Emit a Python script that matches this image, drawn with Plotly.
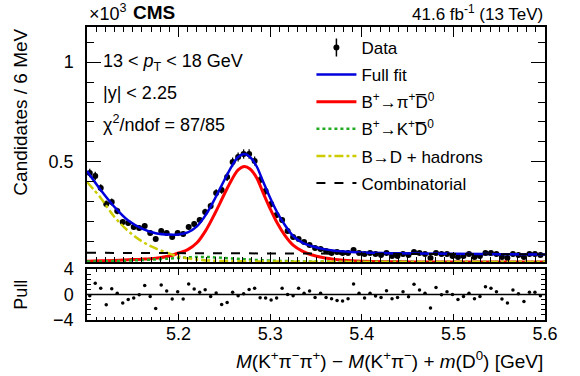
import numpy as np
import plotly.graph_objects as go

# ---------------- data (thousands of candidates per 6 MeV bin) ----------------
BIN_LO = 5.100
BIN_W = 0.006
counts = [0.445, 0.43, 0.37, 0.29, 0.30, 0.255, 0.20, 0.195, 0.175, 0.17,
          0.18, 0.145, 0.115, 0.155, 0.145, 0.125, 0.145, 0.14, 0.175, 0.19,
          0.21, 0.25, 0.28, 0.345, 0.36, 0.425, 0.50, 0.525, 0.54, 0.54,
          0.505, 0.41, 0.355, 0.29, 0.235, 0.21, 0.155, 0.125, 0.115, 0.10,
          0.085, 0.07, 0.065, 0.055, 0.045, 0.05, 0.045, 0.045, 0.06, 0.045,
          0.04, 0.045, 0.04, 0.035, 0.045, 0.03, 0.03, 0.04, 0.035, 0.05,
          0.045, 0.04, 0.02, 0.045, 0.04, 0.04, 0.03, 0.025, 0.03, 0.04,
          0.025, 0.03, 0.045, 0.045, 0.04, 0.025, 0.02, 0.04, 0.035, 0.025,
          0.04, 0.04, 0.035]
pulls = [-0.2, 1.75, 1.0, -1.6, 0.9, 0.2, -1.35, -0.8, -0.55, -0.05,
         1.4, -0.3, -2.2, 1.5, 0.55, -0.7, 0.45, -0.7, 1.65, 0.85,
         0.35, 0.75, -0.3, 0.25, -1.55, -1.25, 0.35, -0.2, 0.1, 0.8,
         1.0, -0.5, -0.55, -0.85, -0.55, 1.0, 0.0, -0.2, 1.0, 0.2,
         0.55, -0.45, 0.2, -0.45, -0.65, -0.95, -1.0, -0.65, 1.65, 0.2,
         -0.55, 0.2, -0.25, -0.45, 0.6, -0.65, -0.45, 0.45, -0.35, 1.6,
         0.7, 0.2, -2.1, 1.1, -0.05, 0.45, 0.0, -0.8, -0.3, 0.2,
         -0.65, -0.3, 1.2, 1.0, 0.45, -0.7, -1.35, 0.7, 0.1, -1.1,
         0.35, 0.35, -0.2]

# fit components
fit_x = [5.100, 5.115, 5.130, 5.145, 5.160, 5.175, 5.190, 5.200, 5.210, 5.220,
         5.230, 5.240, 5.250, 5.258, 5.265, 5.272, 5.278, 5.285, 5.292, 5.300,
         5.308, 5.316, 5.325, 5.335, 5.345, 5.360, 5.380, 5.400, 5.430, 5.460,
         5.500, 5.550, 5.600]
full_fit = [0.455, 0.36, 0.275, 0.207, 0.167, 0.144, 0.137, 0.138, 0.148, 0.178,
            0.238, 0.32, 0.41, 0.478, 0.525, 0.54, 0.525, 0.48, 0.405, 0.32,
            0.245, 0.185, 0.13, 0.097, 0.08, 0.063, 0.052, 0.047, 0.044, 0.042,
            0.041, 0.039, 0.038]
sig_pi = [0.004, 0.006, 0.008, 0.011, 0.014, 0.019, 0.03, 0.045, 0.062, 0.096,
          0.16, 0.246, 0.34, 0.411, 0.461, 0.478, 0.465, 0.423, 0.349, 0.266,
          0.192, 0.133, 0.084, 0.054, 0.036, 0.02, 0.009, 0.004, 0.0015, 0.0005,
          0.0, 0.0, 0.0]
sig_k = [0.002, 0.003, 0.005, 0.007, 0.010, 0.013, 0.017, 0.020, 0.023, 0.025,
         0.025, 0.023, 0.020, 0.018, 0.016, 0.014, 0.012, 0.010, 0.009, 0.007,
         0.006, 0.005, 0.004, 0.003, 0.003, 0.002, 0.0015, 0.001, 0.001, 0.0005,
         0.0, 0.0, 0.0]
bd_had = [0.40, 0.32, 0.225, 0.155, 0.103, 0.068, 0.042, 0.028, 0.018, 0.012,
          0.008, 0.006, 0.005, 0.004, 0.004, 0.003, 0.003, 0.003, 0.002, 0.002,
          0.002, 0.002, 0.0015, 0.0015, 0.001, 0.001, 0.0005, 0.0, 0.0, 0.0,
          0.0, 0.0, 0.0]
comb_x = [5.100, 5.350, 5.600]
comb = [0.046, 0.042, 0.038]

x_ticks = [5.2, 5.3, 5.4, 5.5, 5.6]
x_ticktext = ["5.2", "5.3", "5.4", "5.5", "5.6"]
y_ticks = [0.5, 1.0]
y_ticktext = ["0.5", "1"]
pull_ticks = [-4, 0, 4]

# ---------------- derived ----------------
centers = BIN_LO + BIN_W * (np.arange(len(counts)) + 0.5)
counts_a = np.array(counts)
errs = np.sqrt(counts_a * 1000.0) / 1000.0

FONT = "Liberation Sans, Arial, Helvetica, sans-serif"

fig = go.Figure()

fig.add_trace(go.Scatter(
    x=centers, y=counts_a, mode="markers", name="Data",
    marker=dict(color="black", size=6),
    error_y=dict(type="data", array=errs, color="black", thickness=1.3, width=0),
    xaxis="x2", yaxis="y2", legendgroup="a"))
fig.add_trace(go.Scatter(
    x=fit_x, y=full_fit, mode="lines", name="Full fit", line_shape="spline",
    line=dict(color="#0000dd", width=2.5), xaxis="x2", yaxis="y2", legendgroup="b"))
fig.add_trace(go.Scatter(
    x=fit_x, y=sig_pi, mode="lines", name="B<sup>+</sup>\u2192\u03c0<sup>+</sup>D\u0305<sup>0</sup>",
    line_shape="spline", line=dict(color="#ff0000", width=3), xaxis="x2", yaxis="y2", legendgroup="c"))
fig.add_trace(go.Scatter(
    x=fit_x, y=sig_k, mode="lines", name="B<sup>+</sup>\u2192K<sup>+</sup>D\u0305<sup>0</sup>",
    line_shape="spline", line=dict(color="#22aa22", width=2.5, dash="dot"),
    xaxis="x2", yaxis="y2", legendgroup="d"))
fig.add_trace(go.Scatter(
    x=fit_x, y=bd_had, mode="lines", name="B\u2192D + hadrons",
    line_shape="spline", line=dict(color="#cccc00", width=2.5, dash="dashdot"),
    xaxis="x2", yaxis="y2", legendgroup="e"))
fig.add_trace(go.Scatter(
    x=comb_x, y=comb, mode="lines", name="Combinatorial",
    line=dict(color="black", width=2, dash="dash"), xaxis="x2", yaxis="y2", legendgroup="f"))

# error-bar glyph for the "Data" legend entry (second legend overlaid on the first)
fig.add_trace(go.Scatter(
    x=[None], y=[None], mode="markers", name=" ",
    marker=dict(symbol="line-ns-open", size=13, color="black", line=dict(width=1.5, color="black")),
    xaxis="x2", yaxis="y2", legend="legend2", hoverinfo="skip"))

# pull panel
fig.add_trace(go.Scatter(
    x=[5.1, 5.6], y=[0, 0], mode="lines", line=dict(color="black", width=1.5),
    showlegend=False, hoverinfo="skip", xaxis="x", yaxis="y"))
fig.add_trace(go.Scatter(
    x=centers, y=pulls, mode="markers", marker=dict(color="black", size=3.5),
    showlegend=False, xaxis="x", yaxis="y"))

axis_common = dict(showline=True, linecolor="black", linewidth=1.5, mirror="allticks",
                   ticks="inside", tickcolor="black", showgrid=False, zeroline=False,
                   tickfont=dict(family=FONT, size=18, color="black"))

legend_common = dict(x=0.49, y=0.99, xanchor="left", yanchor="top",
                     font=dict(family=FONT, size=17, color="black"),
                     bgcolor="rgba(0,0,0,0)", traceorder="grouped", tracegroupgap=2,
                     itemwidth=40, itemsizing="trace")

fig.update_layout(
    width=580, height=376,
    margin=dict(l=87, r=35, t=27, b=56),
    paper_bgcolor="white", plot_bgcolor="white",
    font=dict(family=FONT, color="black"),
    xaxis=dict(axis_common, range=[5.1, 5.6], tickvals=x_ticks, ticktext=x_ticktext,
               ticklen=6, tickwidth=1, ticklabelstandoff=-3,
               minor=dict(ticks="inside", ticklen=3, dtick=0.01, tickcolor="black"),
               anchor="y", domain=[0, 1]),
    yaxis=dict(axis_common, range=[-4, 4], tickvals=pull_ticks, ticklen=9,
               ticklabelstandoff=8,
               minor=dict(ticks="inside", ticklen=4, dtick=0.8, tick0=-4, tickcolor="black"),
               domain=[0, 0.174], anchor="x"),
    xaxis2=dict(axis_common, range=[5.1, 5.6], tickvals=x_ticks, showticklabels=False,
                ticklen=10, minor=dict(ticks="inside", ticklen=5, dtick=0.01, tickcolor="black"),
                anchor="y2", matches="x"),
    yaxis2=dict(axis_common, range=[0, 1.175], tickvals=y_ticks, ticktext=y_ticktext,
                ticklen=14, ticklabelstandoff=8,
                minor=dict(ticks="inside", ticklen=7, dtick=0.1, tickcolor="black"),
                domain=[0.198, 1], anchor="x2"),
    legend=legend_common,
    legend2=legend_common,
    showlegend=True,
)

ann = [
    dict(text="\u00d710<sup>3</sup>", x=0, y=1.048, xref="paper", yref="paper",
         xanchor="left", yanchor="middle", showarrow=False,
         font=dict(family=FONT, size=18)),
    dict(text="<b>CMS</b>", x=0.096, y=1.048, xref="paper", yref="paper",
         xanchor="left", yanchor="middle", showarrow=False,
         font=dict(family=FONT, size=19)),
    dict(text="41.6 fb<sup>-1</sup> (13 TeV)", x=1, y=1.048, xref="paper", yref="paper",
         xanchor="right", yanchor="middle", showarrow=False,
         font=dict(family=FONT, size=17)),
    dict(text="13 < <i>p</i><sub>T</sub> < 18 GeV", x=0.031, y=0.8805, xref="paper", yref="paper",
         xanchor="left", yanchor="middle", showarrow=False, font=dict(family=FONT, size=18)),
    dict(text="|y| < 2.25", x=0.031, y=0.775, xref="paper", yref="paper",
         xanchor="left", yanchor="middle", showarrow=False, font=dict(family=FONT, size=18)),
    dict(text="\u03c7<sup>2</sup>/ndof = 87/85", x=0.031, y=0.672, xref="paper", yref="paper",
         xanchor="left", yanchor="middle", showarrow=False, font=dict(family=FONT, size=18)),
    dict(text="Candidates / 6 MeV", x=-0.146, y=1, xref="paper", yref="paper",
         xanchor="center", yanchor="top", textangle=-90, showarrow=False,
         font=dict(family=FONT, size=19)),
    dict(text="Pull", x=-0.146, y=0.087, xref="paper", yref="paper",
         xanchor="center", yanchor="middle", textangle=-90, showarrow=False,
         font=dict(family=FONT, size=18)),
    dict(text="<i>M</i>(K<sup>+</sup>\u03c0<sup>\u2212</sup>\u03c0<sup>+</sup>) \u2212 <i>M</i>(K<sup>+</sup>\u03c0<sup>\u2212</sup>) + <i>m</i>(D<sup>0</sup>) [GeV]",
         x=1, y=-0.135, xref="paper", yref="paper", xanchor="right", yanchor="middle",
         showarrow=False, font=dict(family=FONT, size=19)),
]
fig.update_layout(annotations=ann)

fig.write_html("out.html", config={"displayModeBar": False},
               post_script="document.body.style.margin='0px';document.body.style.overflow='hidden';")
